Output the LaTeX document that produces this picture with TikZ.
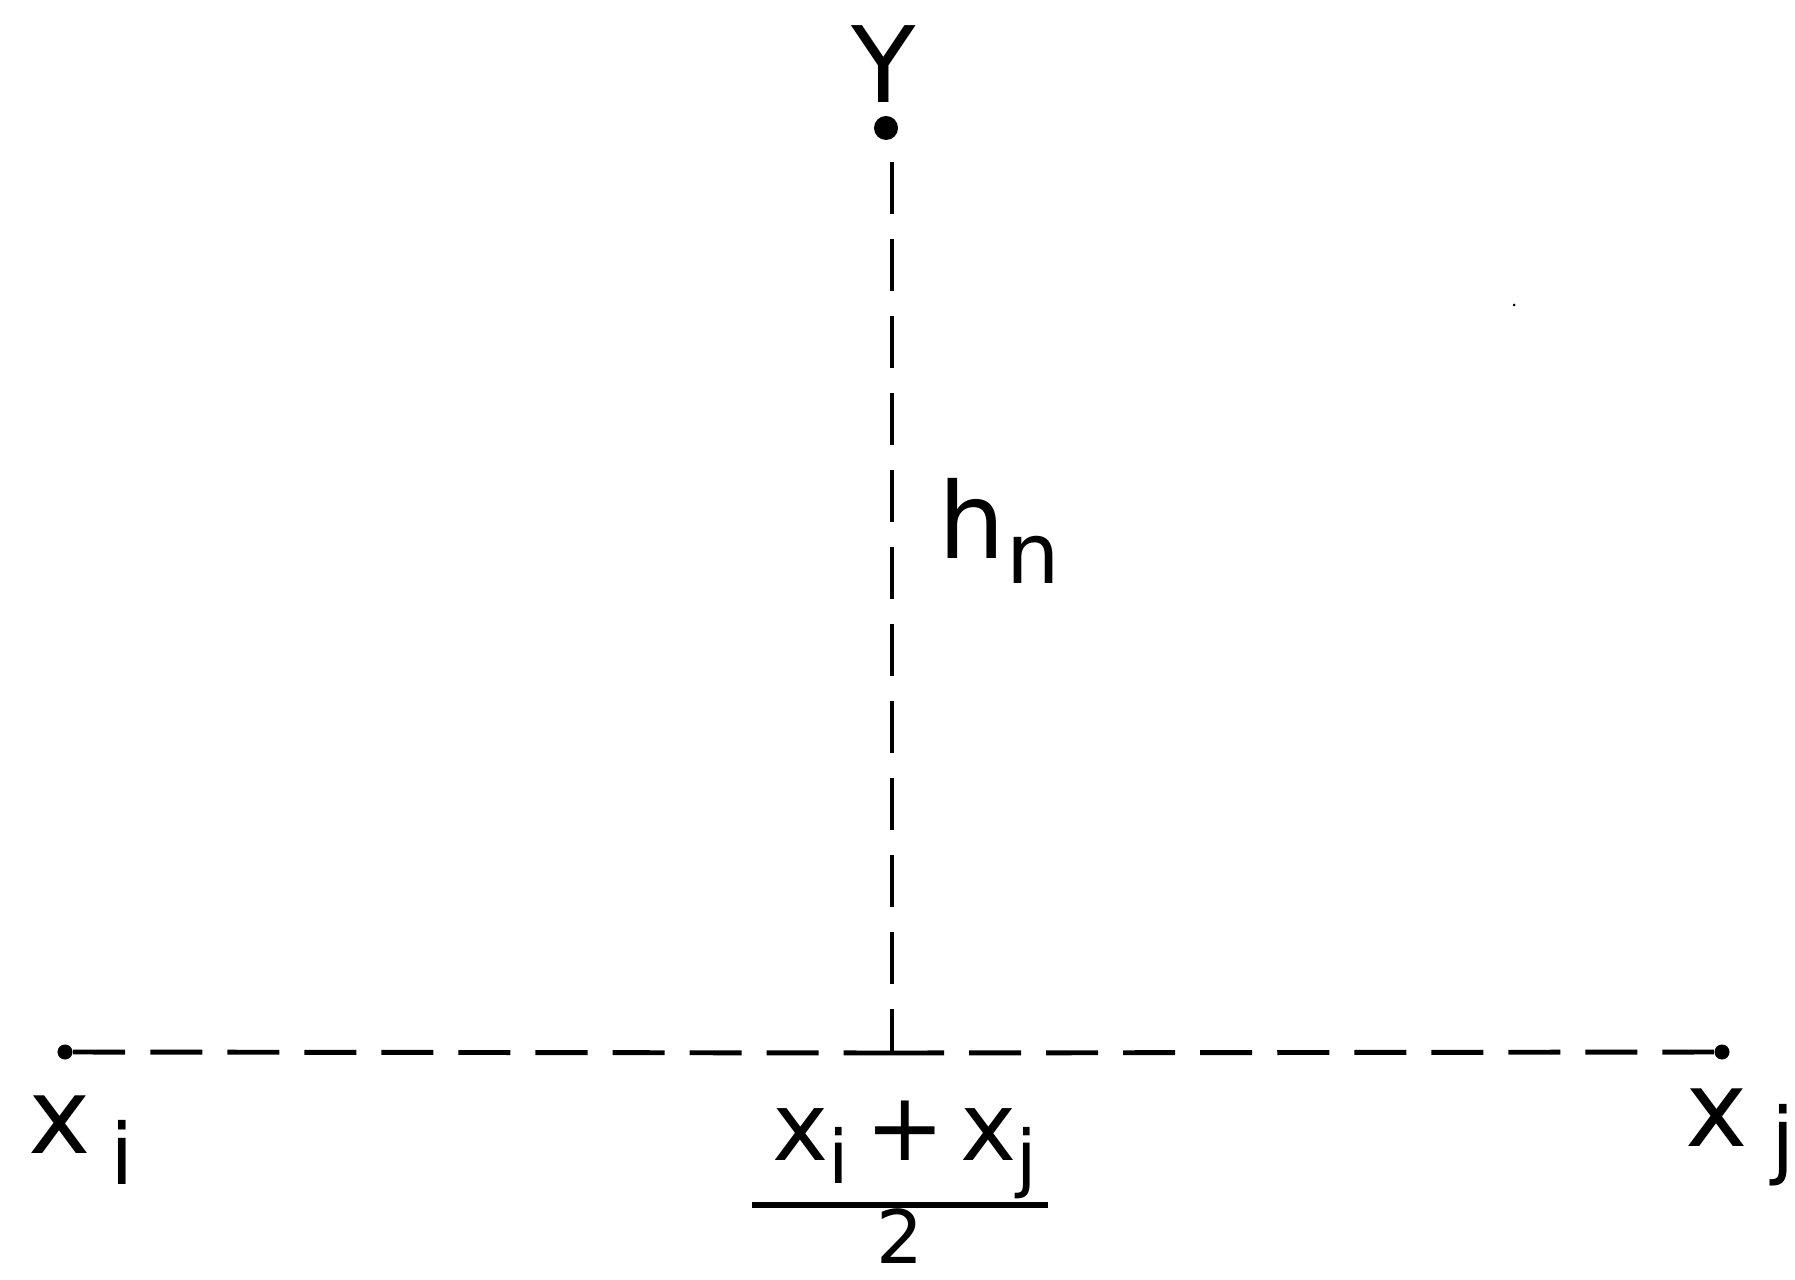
\documentclass[tikz,border=0pt]{standalone}
\usepackage{fontspec}
\setmainfont{DejaVu Sans}
\begin{document}
\begin{tikzpicture}[x=0.01cm,y=-0.01cm,
  dashline/.style={line width=1.4pt,dash pattern=on 0.52cm off 0.25cm},
  lbl/.style={inner sep=0pt,font=\fontsize{30}{34}\selectfont},
  sub/.style={inner sep=0pt,font=\fontsize{24}{28}\selectfont},
  pt/.style={circle,fill=black,inner sep=0pt,minimum size=0.12cm}]
\useasboundingbox (0,0) rectangle (1795,1280);
% points
\node[pt,minimum size=0.24cm] (Y) at (886,128) {};
\coordinate (top) at (892,162);
\coordinate (foot) at (892,1053);
\node[pt,minimum size=0.15cm] (L) at (65,1052) {};
\node[pt,minimum size=0.15cm] (R) at (1722,1052) {};
% lines
\draw[dashline] (top) -- (foot);
\draw[dashline] (L) -- (foot);
\draw[dashline] (foot) -- (R);
% labels
\node[lbl] (ylab) at (884,64) {Y};
\node[lbl] (hlab) at (972,518) {h};
\node[sub] (hsub) at (1033,560) {n};
\node[lbl] (xilab) at (60,1125) {x};
\node[sub] (xisub) at (122,1152) {i};
\node[lbl] (xjlab) at (1717,1118) {x};
\node[sub] (xjsub) at (1783,1145) {j};
\node[font=\fontsize{27}{32}\selectfont,inner sep=0pt] (num) at (905,1150) {x\raisebox{-0.25em}{\fontsize{21}{26}\selectfont i}\,+\,x\raisebox{-0.25em}{\fontsize{21}{26}\selectfont j}};
\coordinate (barL) at (752,1205);
\coordinate (barR) at (1048,1205);
\draw[line width=1.6pt] (barL) -- (barR);
\node[inner sep=0pt,font=\fontsize{21}{25}\selectfont] (two) at (900,1236) {2};
\fill (1514,305) circle (0.015cm);
\end{tikzpicture}
\end{document}
